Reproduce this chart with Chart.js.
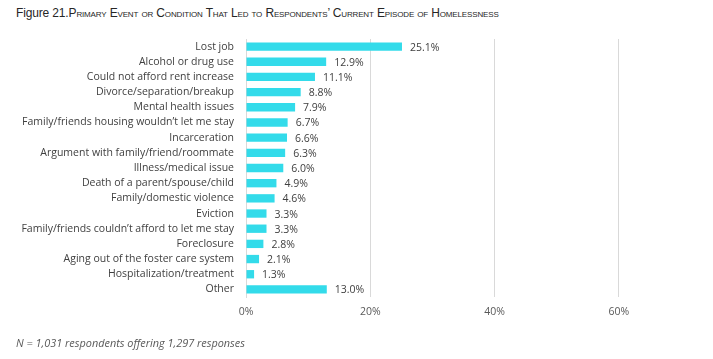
<!DOCTYPE html>
<html>
<head>
<meta charset="utf-8">
<script src="https://cdn.jsdelivr.net/npm/chart.js@4"></script>
<style>
  html, body { margin: 0; padding: 0; background: #fff; }
  #wrap { position: relative; width: 713px; height: 359px; overflow: hidden; }
  #title { position: absolute; left: 16px; top: 6px; font-family: "Liberation Sans", sans-serif; font-size: 12px; color: #262626; white-space: nowrap; letter-spacing: -0.15px; }
  #title .sc { font-variant: small-caps; }
  #note { position: absolute; left: 16px; top: 335px; font-family: "Open Sans", sans-serif; font-style: italic; font-size: 10.9px; color: #595959; white-space: nowrap; }
  #c { position: absolute; left: 0; top: 0; }
</style>
</head>
<body>
<div id="wrap">
  <div id="title">Figure 21.<span class="sc">Primary Event or Condition That Led to Respondents’ Current Episode of Homelessness</span></div>
  <canvas id="c" width="713" height="359"></canvas>
  <div id="note">N = 1,031 respondents offering 1,297 responses</div>
</div>
<script>
const categories = [
  "Lost job",
  "Alcohol or drug use",
  "Could not afford rent increase",
  "Divorce/separation/breakup",
  "Mental health issues",
  "Family/friends housing wouldn’t let me stay",
  "Incarceration",
  "Argument with family/friend/roommate",
  "Illness/medical issue",
  "Death of a parent/spouse/child",
  "Family/domestic violence",
  "Eviction",
  "Family/friends couldn’t afford to let me stay",
  "Foreclosure",
  "Aging out of the foster care system",
  "Hospitalization/treatment",
  "Other"
];
const percentValues = [25.1, 12.9, 11.1, 8.8, 7.9, 6.7, 6.6, 6.3, 6.0, 4.9, 4.6, 3.3, 3.3, 2.8, 2.1, 1.3, 13.0];
const xTickValues = [0, 20, 40, 60];
const xMax = 70;

const FONT = "Open Sans";
const valueLabels = {
  id: 'valueLabels',
  afterDatasetsDraw(chart) {
    const ctx = chart.ctx;
    const meta = chart.getDatasetMeta(0);
    ctx.save();
    ctx.font = '10.5px "' + FONT + '"';
    ctx.fillStyle = '#404040';
    ctx.textAlign = 'left';
    ctx.textBaseline = 'middle';
    meta.data.forEach((bar, i) => {
      ctx.fillText(percentValues[i].toFixed(1) + '%', bar.x + 8, bar.y + 1);
    });
    ctx.restore();
  }
};

new Chart(document.getElementById('c'), {
  type: 'bar',
  data: {
    labels: categories,
    datasets: [{
      data: percentValues,
      backgroundColor: '#33dbea',
      borderWidth: 0,
      categoryPercentage: 0.55,
      barPercentage: 1.0
    }]
  },
  options: {
    indexAxis: 'y',
    responsive: false,
    animation: false,
    events: [],
    layout: { padding: { top: 39, right: 32, bottom: 0, left: 0 } },
    plugins: { legend: { display: false }, tooltip: { enabled: false }, title: { display: false } },
    scales: {
      x: {
        min: 0, max: xMax,
        afterBuildTicks(scale) {
          scale.ticks = xTickValues.map(v => ({ value: v }));
        },
        afterFit(scale) { scale.height = 62; },
        grid: { color: '#d9d9d9', lineWidth: 1, drawTicks: false },
        border: { display: false },
        ticks: {
          padding: 9,
          color: '#595959',
          font: { family: FONT, size: 10.5 },
          callback: (v) => v + '%'
        }
      },
      y: {
        afterFit(scale) { scale.width = 246; },
        grid: { display: false, drawTicks: false },
        border: { display: true, color: '#d9d9d9', width: 1 },
        ticks: {
          padding: 12,
          color: '#404040',
          font: { family: FONT, size: 10.5 },
          autoSkip: false
        }
      }
    }
  },
  plugins: [valueLabels]
});
</script>
</body>
</html>
